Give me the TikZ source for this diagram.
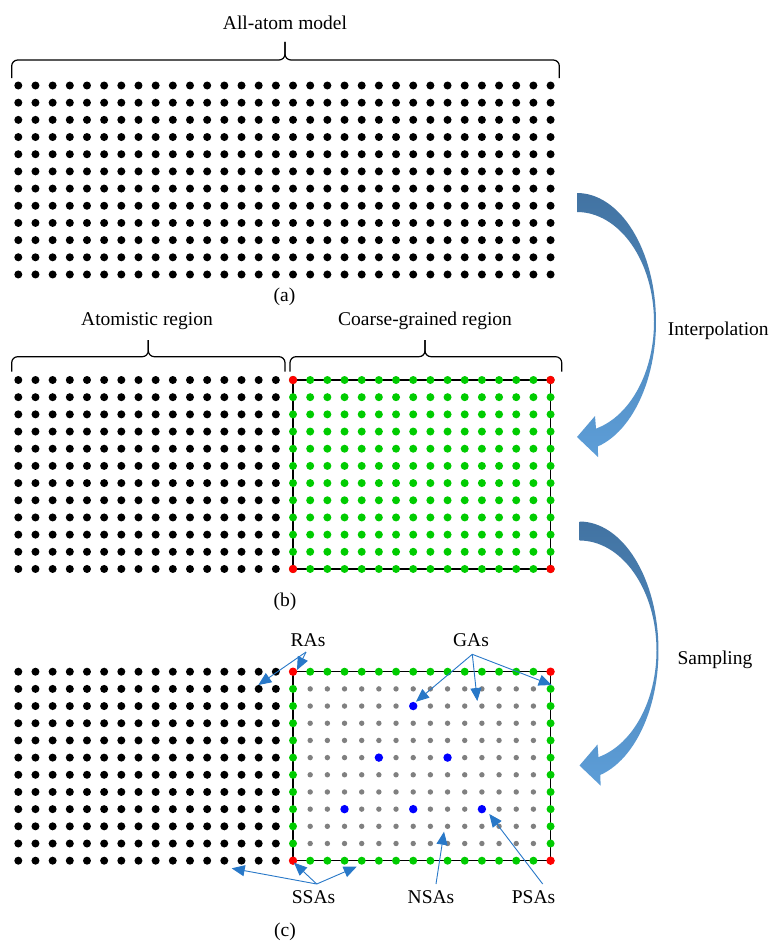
\documentclass[tikz,border=0pt]{standalone}
\usepackage{fontspec}
\setmainfont{Liberation Serif}
\newfontfamily\tnr{Liberation Serif}
\usetikzlibrary{arrows.meta}
\definecolor{dgreen}{RGB}{0,204,0}
\definecolor{dred}{RGB}{255,0,0}
\definecolor{dblue}{RGB}{0,0,255}
\definecolor{dgray}{RGB}{128,128,128}
\definecolor{annblue}{RGB}{40,120,200}
\definecolor{arrtop}{RGB}{66,115,162}
\definecolor{arrbot}{RGB}{93,158,216}
\newcommand{\gx}[1]{18.3+17.17*#1}
\newcommand{\bigarrow}[2]{%
  \shade[top color=arrtop, bottom color=arrbot, shift={(#1,#2)}]
    plot[domain=-90:74.6, samples=60] ({79*cos(\x)}, {129*sin(\x)})
    -- (21,135) -- (0,115) -- (18,94) -- (19,106.6)
    -- plot[domain=75.7:-90, samples=60] ({77*cos(\x)}, {110*sin(\x)}) -- cycle;}
\begin{document}
\begin{tikzpicture}[x=1pt,y=-1pt,
  lbl/.style={font=\tnr\fontsize{19.5}{22}\selectfont, inner sep=0pt, anchor=base},
  ann/.style={draw=annblue, line width=0.9pt, -{Triangle[length=13pt,width=11pt,fill=annblue]}},
  brc/.style={line width=1.2pt, rounded corners=6pt},
  blk/.style={fill=black},
  grn/.style={fill=dgreen},
  rd/.style={fill=dred},
  gr/.style={fill=dgray},
  bl/.style={fill=dblue}]
\useasboundingbox[fill=white] (0,0) rectangle (772,942);

% ---------- panel (a) ----------
\foreach \i in {0,...,31} \foreach \j in {0,...,11}
  \fill[blk] ({\gx{\i}},{85.5+17.18*\j}) circle (4pt);
\draw[brc] (11.7,78) -- (11.7,60) -- (285,60) -- (285,42);
\draw[brc] (559.3,78) -- (559.3,60) -- (285,60) -- (285,42);
\node[lbl] (ta) at (285,29.5) {All-atom model};
\node[lbl] (la) at (284.5,301.7) {(a)};

% ---------- panel (b) ----------
\draw[line width=1.3pt] ({\gx{16}},380) rectangle ({\gx{31}},{380+17.18*11});
\foreach \i in {0,...,15} \foreach \j in {0,...,11}
  \fill[blk] ({\gx{\i}},{380+17.18*\j}) circle (4pt);
\foreach \i in {16,...,31} \foreach \j in {0,...,11}
  \fill[grn] ({\gx{\i}},{380+17.18*\j}) circle (4pt);
\foreach \i/\j in {16/0,31/0,16/11,31/11}
  \fill[rd] ({\gx{\i}},{380+17.18*\j}) circle (4.2pt);
\draw[brc] (11.7,371.7) -- (11.7,356.7) -- (148.3,356.7) -- (148.3,340);
\draw[brc] (285,371.7) -- (285,356.7) -- (148.3,356.7) -- (148.3,340);
\draw[brc] (290,371.7) -- (290,356.7) -- (425,356.7) -- (425,340);
\draw[brc] (561.7,371.7) -- (561.7,356.7) -- (425,356.7) -- (425,340);
\node[lbl] (tat) at (147,325) {Atomistic region};
\node[lbl] (tcg) at (425,325.5) {Coarse-grained region};
\node[lbl] (lb) at (285,606) {(b)};

% ---------- panel (c) ----------
\draw[line width=1.3pt] ({\gx{16}},671.7) rectangle ({\gx{31}},{671.7+17.18*11});
\foreach \i in {0,...,15} \foreach \j in {0,...,11}
  \fill[blk] ({\gx{\i}},{671.7+17.18*\j}) circle (4pt);
\foreach \i in {17,...,30} \foreach \j in {1,...,10}
  \fill[gr] ({\gx{\i}},{671.7+17.18*\j}) circle (2.7pt);
\foreach \i in {17,...,30} {
  \fill[grn] ({\gx{\i}},671.7) circle (4pt);
  \fill[grn] ({\gx{\i}},{671.7+17.18*11}) circle (4pt);}
\foreach \j in {1,...,10} {
  \fill[grn] ({\gx{16}},{671.7+17.18*\j}) circle (4pt);
  \fill[grn] ({\gx{31}},{671.7+17.18*\j}) circle (4pt);}
\foreach \i/\j in {16/0,31/0,16/11,31/11}
  \fill[rd] ({\gx{\i}},{671.7+17.18*\j}) circle (4.2pt);
\foreach \i/\j in {23/2,21/5,25/5,19/8,23/8,27/8}
  \fill[bl] ({\gx{\i}},{671.7+17.18*\j}) circle (4.2pt);
\node[lbl] (lc) at (285,936.7) {(c)};

% annotation labels
\node[lbl] (ras) at (308,646.7) {RAs};
\node[lbl] (gas) at (471,646.7) {GAs};
\node[lbl] (ssas) at (313.5,903.3) {SSAs};
\node[lbl] (nsas) at (431,903.3) {NSAs};
\node[lbl] (psas) at (533.5,903.3) {PSAs};
\coordinate (rasS) at (306,652);
\coordinate (gasS) at (472.3,654.3);
\coordinate (ssaS) at (316.7,884);
\coordinate (nsaS) at (436,884);
\coordinate (psaS) at (542.7,884);
\coordinate (ra1) at (258.3,685);
\coordinate (ra2) at (297,670);
\coordinate (ga1) at (416,701.7);
\coordinate (ga2) at (477.3,701);
\coordinate (ga3) at (551.7,685);
\coordinate (ss1) at (231.7,868.3);
\coordinate (ss2) at (294,862.7);
\coordinate (ss3) at (356.7,866.7);
\coordinate (ns1) at (444,831.7);
\coordinate (ps1) at (489.3,814);
\draw[ann] (rasS) -- (ra1);
\draw[ann] (rasS) -- (ra2);
\draw[ann] (gasS) -- (ga1);
\draw[ann] (gasS) -- (ga2);
\draw[ann] (gasS) -- (ga3);
\draw[ann] (ssaS) -- (ss1);
\draw[ann] (ssaS) -- (ss2);
\draw[ann] (ssaS) -- (ss3);
\draw[ann] (nsaS) -- (ns1);
\draw[ann] (psaS) -- (ps1);

% ---------- big curved arrows ----------
\bigarrow{577}{322}
\bigarrow{579.5}{650.5}
\node[lbl] (tint) at (718.3,335.7) {Interpolation};
\node[lbl] (tsam) at (715,664) {Sampling};
\end{tikzpicture}
\end{document}
